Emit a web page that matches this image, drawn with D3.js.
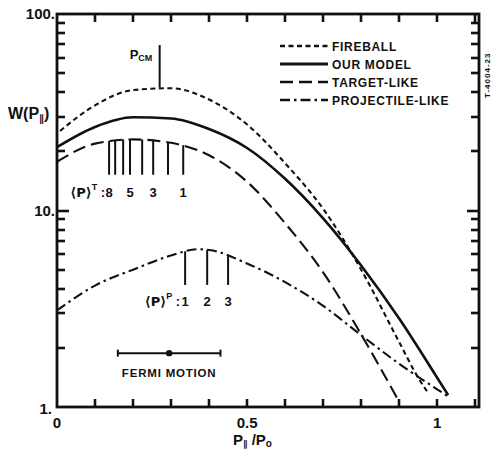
<!DOCTYPE html>
<html>
<head>
<meta charset="utf-8">
<script src="https://cdn.jsdelivr.net/npm/d3@7/dist/d3.min.js"></script>
<style>
  html, body { margin: 0; padding: 0; background: #fff; }
  svg { display: block; }
  text { font-family: "Liberation Sans", Arial, "DejaVu Sans", sans-serif; font-weight: bold; fill: #111; }
</style>
</head>
<body>
<svg id="chart" width="492" height="454"></svg>
<script>
// Longitudinal momentum distributions W(P_par) vs P_par / P_0

// Fireball (short dashes)
const fireX = [0.008, 0.1, 0.2, 0.3, 0.4, 0.5, 0.6, 0.7, 0.8, 0.9, 0.95, 0.976];
const fireW = [25.4, 34.3, 41.0, 41.9, 36.7, 27.4, 17.4, 10.2, 5.0, 2.14, 1.41, 1.18];

// Our model (solid)
const modelX = [0, 0.1, 0.2, 0.3, 0.4, 0.5, 0.6, 0.7, 0.8, 0.9, 1.0, 1.029];
const modelW = [21.0, 26.6, 29.8, 29.4, 26.0, 20.8, 14.5, 9.12, 5.25, 2.82, 1.41, 1.15];

// Target-like (long dashes)
const targX = [0, 0.1, 0.2, 0.3, 0.4, 0.5, 0.6, 0.7, 0.8, 0.897];
const targW = [17.7, 21.9, 23.0, 22.1, 19.1, 14.0, 8.61, 4.84, 2.34, 1.09];

// Projectile-like (dash-dot)
const projX = [0, 0.1, 0.2, 0.3, 0.37, 0.4, 0.5, 0.6, 0.7, 0.8, 0.9, 1.0, 1.026];
const projW = [3.1, 4.15, 5.0, 5.9, 6.35, 6.3, 5.37, 4.32, 3.27, 2.32, 1.66, 1.23, 1.14];

// <P>^T markers (8 ... 1 participants) hanging from the target-like curve
const tBarX   = [0.137, 0.153, 0.174, 0.192, 0.224, 0.253, 0.292, 0.332];
const tBarTop = [22.6, 22.8, 23, 23, 23, 22.8, 22.3, 21.5];
const tBarBottom = 15.2;
const tBarNames = ["8", "", "", "5", "", "3", "", "1"];

// <P>^P markers (1 ... 3) hanging from the projectile-like curve
const pBarX   = [0.337, 0.395, 0.45];
const pBarTop = [6.2, 6.3, 5.9];
const pBarBottom = 4.18;
const pBarNames = ["1", "2", "3"];

// Centre-of-mass momentum and Fermi-motion spread
const pCM = 0.27;
const pCMTop = 69.5;
const pCMBase = 42.2;
const fermiCentre = 0.295, fermiLow = 0.16, fermiHigh = 0.43, fermiW = 1.88;

// Axes
const xDomain = [0, 1.11];
const xMajor = [0, 0.5, 1];
const xTickLabels = ["0", "0.5", "1"];
const xMinor = [0.1, 0.2, 0.3, 0.4, 0.5, 0.6, 0.7, 0.8, 0.9, 1.0, 1.1];
const yMajor = [1, 10, 100];
const yTickLabels = ["1.", "10.", "100."];
const yMinor = [2, 3, 4, 5, 6, 7, 8, 9, 20, 30, 40, 50, 60, 70, 80, 90];

const legendNames = ["FIREBALL", "OUR MODEL", "TARGET-LIKE", "PROJECTILE-LIKE"];

const L = 57, R = 479, T = 14, B = 407;
const svg = d3.select("#chart");
const x = d3.scaleLinear().domain(xDomain).range([L, R]);
const y = d3.scaleLog().domain([1, 100]).range([B, T]);

const styles = [
  { w: 2.1, dash: "5,3.5" },
  { w: 2.6, dash: null },
  { w: 2.1, dash: "13,6" },
  { w: 2.1, dash: "10,4,2.5,4" }
];

const line = d3.line().x(d => x(d[0])).y(d => y(d[1])).curve(d3.curveMonotoneX);
const series = [
  d3.zip(fireX, fireW),
  d3.zip(modelX, modelW),
  d3.zip(targX, targW),
  d3.zip(projX, projW)
];
series.forEach((s, i) => {
  svg.append("path")
    .attr("d", line(s))
    .attr("fill", "none")
    .attr("stroke", "#111")
    .attr("stroke-width", styles[i].w)
    .attr("stroke-dasharray", styles[i].dash)
    .attr("stroke-linecap", "butt");
});

// Frame
svg.append("rect").attr("x", L).attr("y", T).attr("width", R - L).attr("height", B - T)
  .attr("fill", "none").attr("stroke", "#111").attr("stroke-width", 2.8);

// Inward ticks on all four sides
function tick(x1, y1, x2, y2) {
  svg.append("path")
    .attr("d", `M${x1},${y1}L${x2},${y2}`)
    .attr("fill", "none")
    .attr("stroke", "#111")
    .attr("stroke-width", 2.6);
}
xMinor.forEach(v => {
  const px = Math.round(x(v));
  tick(px, B, px, B - 8);
  tick(px, T, px, T + 8);
});
yMinor.forEach(v => {
  const py = Math.round(y(v));
  tick(L, py, L + 8, py);
  tick(R, py, R - 8, py);
});
tick(L, Math.round(y(10)), L + 12, Math.round(y(10)));
tick(R, Math.round(y(10)), R - 12, Math.round(y(10)));

// Tick labels
xMajor.forEach((v, i) => {
  svg.append("text").attr("x", x(v)).attr("y", B + 21).attr("text-anchor", "middle")
    .style("font-size", "15px").text(xTickLabels[i]);
});
yMajor.forEach((v, i) => {
  svg.append("text").attr("x", L - (v === 1 ? 5 : 2)).attr("y", y(v) + (v === 1 ? 7 : 5))
    .attr("text-anchor", "end").style("font-size", "15px").text(yTickLabels[i]);
});

// Axis titles
const yt = svg.append("text").attr("x", 8).attr("y", 119).style("font-size", "16px");
yt.append("tspan").text("W(P");
yt.append("tspan").text("\u2225").style("font-size", "10px").attr("dy", 3);
yt.append("tspan").text(")").attr("dy", -3);

const xt = svg.append("text").attr("x", 233).attr("y", 445).style("font-size", "15px");
xt.append("tspan").text("P");
xt.append("tspan").text("\u2225").style("font-size", "9px").attr("dy", 2);
xt.append("tspan").text(" /P").attr("dy", -2);
xt.append("tspan").text("o").style("font-size", "10px").attr("dy", 2);

// Target-like participant markers
tBarX.forEach((bx, i) => {
  svg.append("line").attr("x1", x(bx)).attr("x2", x(bx))
    .attr("y1", y(tBarTop[i])).attr("y2", y(tBarBottom))
    .attr("stroke", "#111").attr("stroke-width", 2);
  if (tBarNames[i]) {
    svg.append("text").attr("x", x(bx)).attr("y", y(tBarBottom) + 22)
      .attr("text-anchor", "middle").style("font-size", "13px").text(tBarNames[i]);
  }
});
const tl = svg.append("text").attr("x", x(tBarX[0]) - 4).attr("y", y(tBarBottom) + 22)
  .attr("text-anchor", "end").style("font-size", "13px");
tl.append("tspan").text("\u27E8P\u27E9").style("font-family", '"DejaVu Sans", sans-serif');
tl.append("tspan").text("T").style("font-size", "9px").attr("dy", -7);
tl.append("tspan").text(" :").attr("dy", 7);

// Projectile-like participant markers
pBarX.forEach((bx, i) => {
  svg.append("line").attr("x1", x(bx)).attr("x2", x(bx))
    .attr("y1", y(pBarTop[i])).attr("y2", y(pBarBottom))
    .attr("stroke", "#111").attr("stroke-width", 2);
  svg.append("text").attr("x", x(bx)).attr("y", y(pBarBottom) + 21)
    .attr("text-anchor", "middle").style("font-size", "13px").text(pBarNames[i]);
});
const pl = svg.append("text").attr("x", x(pBarX[0]) - 5).attr("y", y(pBarBottom) + 21)
  .attr("text-anchor", "end").style("font-size", "13px");
pl.append("tspan").text("\u27E8P\u27E9").style("font-family", '"DejaVu Sans", sans-serif');
pl.append("tspan").text("P").style("font-size", "9px").attr("dy", -7);
pl.append("tspan").text(" :").attr("dy", 7);

// P_CM marker above the fireball maximum
svg.append("line").attr("x1", x(pCM)).attr("x2", x(pCM))
  .attr("y1", y(pCMTop)).attr("y2", y(pCMBase))
  .attr("stroke", "#111").attr("stroke-width", 2);
const pc = svg.append("text").attr("x", x(pCM) - 30).attr("y", 59).style("font-size", "13px");
pc.append("tspan").text("P");
pc.append("tspan").text("CM").style("font-size", "9px").attr("dy", 2);

// Fermi motion range
svg.append("line").attr("x1", x(fermiLow)).attr("x2", x(fermiHigh))
  .attr("y1", y(fermiW)).attr("y2", y(fermiW)).attr("stroke", "#111").attr("stroke-width", 2);
[fermiLow, fermiHigh].forEach(v => {
  svg.append("line").attr("x1", x(v)).attr("x2", x(v))
    .attr("y1", y(fermiW) - 3.5).attr("y2", y(fermiW) + 3.5).attr("stroke", "#111").attr("stroke-width", 2);
});
svg.append("circle").attr("cx", x(fermiCentre)).attr("cy", y(fermiW)).attr("r", 3.2).attr("fill", "#111");
svg.append("text").attr("x", x(fermiCentre)).attr("y", y(fermiW) + 24)
  .attr("text-anchor", "middle").style("font-size", "11.5px").style("letter-spacing", "0.8px")
  .text("FERMI MOTION");

// Legend
const legY = [46, 64, 82, 100];
legendNames.forEach((name, i) => {
  svg.append("line").attr("x1", 280).attr("x2", 328).attr("y1", legY[i]).attr("y2", legY[i])
    .attr("stroke", "#111").attr("stroke-width", i === 1 ? 3.2 : 2.4)
    .attr("stroke-dasharray", styles[i].dash);
  svg.append("text").attr("x", 332).attr("y", legY[i] + 5)
    .style("font-size", "12px").style("letter-spacing", "0.7px").text(name);
});

// Catalogue mark along the right edge
svg.append("text").attr("transform", "translate(490,98) rotate(-90)")
  .style("font-size", "8px").style("letter-spacing", "1px").text("T-4004-23");
</script>
</body>
</html>
